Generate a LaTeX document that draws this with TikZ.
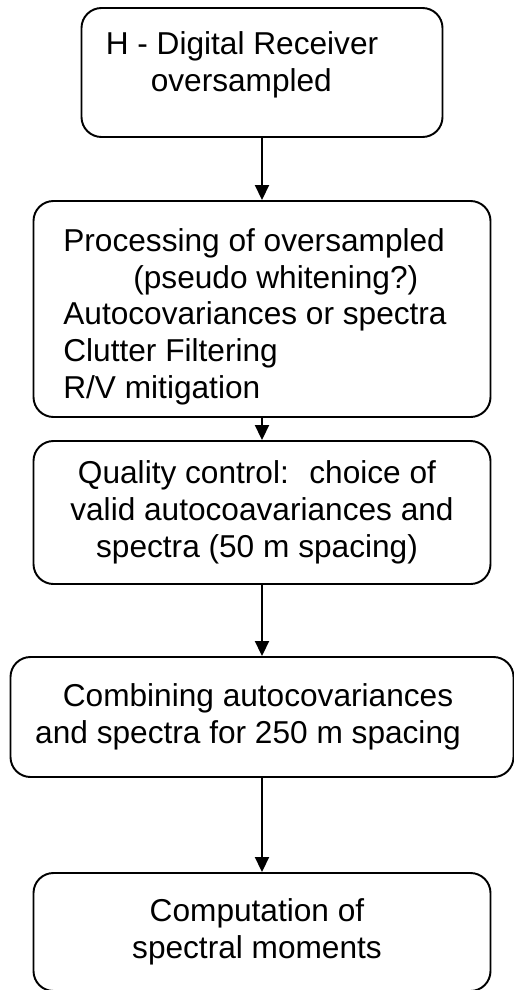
\documentclass[tikz,border=0pt]{standalone}
\usepackage{fontspec}
\setmainfont{Liberation Sans}
\usepackage{tikz}
\usetikzlibrary{arrows,arrows.meta}
\tikzset{
    stagebox/.style={draw, line width=1.1pt, rounded corners=0.4cm, inner sep=0pt},
    flowpfeil/.style={line width=1.1pt, -{Triangle[length=3mm,width=2.8mm]}}
}

\begin{document}
\begin{tikzpicture}[font=\fontsize{18}{21}\selectfont]

    \useasboundingbox (0,0) rectangle (10.28,-19.8);

    \node[stagebox, minimum width=7.22cm, minimum height=2.58cm, align=left] (receiver) at (5.24,-1.45)
        {H - Digital Receiver\hspace*{0.8cm}\\ \hspace*{0.9cm}oversampled\rule[-0.45cm]{0pt}{0.45cm}};

    \node[stagebox, minimum width=9.14cm, minimum height=4.32cm, align=left] (processing) at (5.24,-6.18)
        {\rule{0pt}{0.77cm}Processing of oversampled\\ \hspace*{1.4cm}(pseudo whitening?)\\ Autocovariances or spectra\rule{0.28cm}{0pt}\\ Clutter Filtering\\ R/V mitigation};

    \node[stagebox, minimum width=9.14cm, minimum height=2.86cm, align=center] (quality) at (5.24,-10.25)
        {Quality control:~ choice of\hspace*{0.2cm}\\ valid autocoavariances and\hspace*{0.4cm}\\ spectra (50 m spacing)\hspace*{0.2cm}};

    \node[stagebox, minimum width=10.06cm, minimum height=2.4cm, align=center] (combining) at (5.24,-14.34)
        {Combining autocovariances\hspace*{0.16cm}\\ and spectra for 250 m spacing\hspace*{0.56cm}};

    \node[stagebox, minimum width=9.14cm, minimum height=2.36cm, align=center] (moments) at (5.24,-18.64)
        {Computation of\hspace*{0.2cm}\\ spectral moments\hspace*{0.2cm}};

    \draw[flowpfeil] (receiver) -- (processing);
    \draw[flowpfeil] (processing) -- (quality);
    \draw[flowpfeil] (quality) -- (combining);
    \draw[flowpfeil] (combining) -- (moments);

\end{tikzpicture}
\end{document}
